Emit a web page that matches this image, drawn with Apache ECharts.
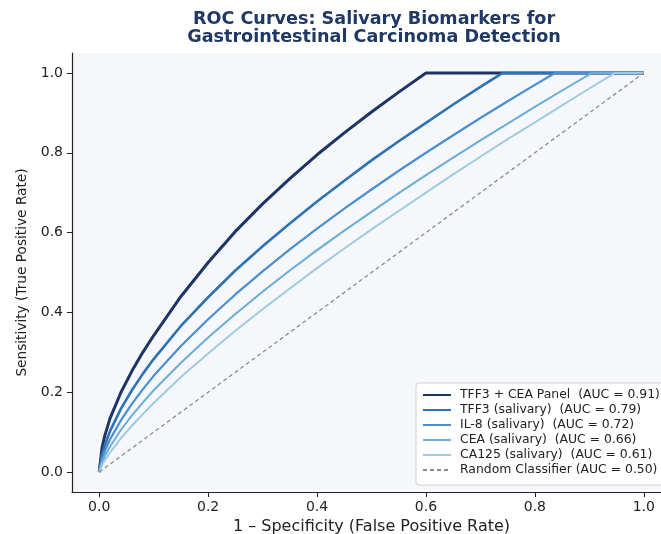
<!DOCTYPE html>
<html>
<head>
<meta charset="utf-8">
<script src="https://cdn.jsdelivr.net/npm/echarts@6/dist/echarts.min.js"></script>
<style>
html,body{margin:0;padding:0;background:#fff;}
#chart{width:661px;height:534px;}
</style>
</head>
<body>
<div id="chart"></div>
<script>
// ---- data ----
const seriesNames = [
  'TFF3 + CEA Panel  (AUC = 0.91)',
  'TFF3 (salivary)  (AUC = 0.79)',
  'IL-8 (salivary)  (AUC = 0.72)',
  'CEA (salivary)  (AUC = 0.66)',
  'CA125 (salivary)  (AUC = 0.61)',
  'Random Classifier (AUC = 0.50)'
];
const panelFpr = [0,0.005,0.01,0.02,0.04,0.06,0.08,0.1,0.15,0.2,0.25,0.3,0.35,0.4,0.45,0.5,0.55,0.6,1.0];
const panelTpr = [0,0.06,0.09,0.135,0.20,0.253,0.30,0.342,0.44,0.525,0.603,0.672,0.735,0.795,0.85,0.902,0.952,1,1];
const tff3Fpr = [0,0.005,0.01,0.02,0.04,0.06,0.08,0.1,0.15,0.2,0.25,0.3,0.35,0.4,0.45,0.5,0.55,0.6,0.65,0.7,0.741,1.0];
const tff3Tpr = [0,0.043,0.066,0.103,0.159,0.205,0.246,0.283,0.366,0.438,0.505,0.566,0.623,0.678,0.730,0.781,0.829,0.875,0.921,0.965,1,1];
const il8Fpr = [0,0.005,0.01,0.02,0.04,0.06,0.08,0.1,0.15,0.2,0.25,0.3,0.35,0.4,0.45,0.5,0.55,0.6,0.65,0.7,0.75,0.8,0.837,1.0];
const il8Tpr = [0,0.032,0.052,0.082,0.130,0.171,0.207,0.241,0.316,0.383,0.445,0.503,0.558,0.610,0.660,0.708,0.755,0.800,0.844,0.887,0.929,0.970,1,1];
const ceaFpr = [0,0.005,0.01,0.02,0.04,0.06,0.08,0.1,0.15,0.2,0.25,0.3,0.35,0.4,0.45,0.5,0.55,0.6,0.65,0.7,0.75,0.8,0.85,0.905,1.0];
const ceaTpr = [0,0.024,0.039,0.064,0.106,0.142,0.174,0.205,0.274,0.337,0.396,0.452,0.505,0.556,0.605,0.652,0.699,0.744,0.788,0.831,0.873,0.915,0.956,1,1];
const ca125Fpr = [0,0.005,0.01,0.02,0.04,0.06,0.08,0.1,0.15,0.2,0.25,0.3,0.35,0.4,0.45,0.5,0.55,0.6,0.65,0.7,0.75,0.8,0.85,0.9,0.947,1.0];
const ca125Tpr = [0,0.017,0.029,0.049,0.085,0.116,0.145,0.173,0.238,0.297,0.354,0.408,0.460,0.511,0.560,0.608,0.654,0.700,0.746,0.790,0.834,0.876,0.919,0.961,1,1];
const randomFpr = [0,1];
const randomTpr = [0,1];
const tickValues = [0,0.2,0.4,0.6,0.8,1.0];

// ---- styling ----
const FONT = 'DejaVu Sans';
const colors = ['#1c3664','#2e72b4','#4a8fd2','#6cadd8','#9fcbe2','#8c8c8c'];
const widths = [3,2.6,2.2,2,2,1.3];

function zip(xs, ys){ return xs.map((x,i)=>[x, ys[i]]); }
const dataSets = [
  zip(panelFpr, panelTpr),
  zip(tff3Fpr, tff3Tpr),
  zip(il8Fpr, il8Tpr),
  zip(ceaFpr, ceaTpr),
  zip(ca125Fpr, ca125Tpr),
  zip(randomFpr, randomTpr)
];

const series = dataSets.map((d,i)=>({
  name: seriesNames[i],
  type: 'line',
  data: d,
  symbol: 'none',
  showSymbol: false,
  smooth: false,
  clip: false,
  z: 2 + i,
  lineStyle: {
    color: colors[i],
    width: widths[i],
    type: i === 5 ? [4,3] : 'solid',
    cap: 'butt',
    join: 'round'
  },
  itemStyle: { color: colors[i] },
  animation: false
}));

const chart = echarts.init(document.getElementById('chart'), null, {renderer:'canvas'});
chart.setOption({
  animation: false,
  backgroundColor: '#ffffff',
  title: {
    text: 'ROC Curves: Salivary Biomarkers for\nGastrointestinal Carcinoma Detection',
    left: 369,
    textAlign: 'center',
    top: 5,
    textStyle: {
      fontFamily: FONT,
      fontWeight: 'bold',
      fontSize: 17.6,
      lineHeight: 18,
      color: '#1f3864'
    }
  },
  grid: {
    left: 72,
    right: -10,
    top: 53,
    bottom: 42,
    outerBoundsMode: 'none',
    containLabel: false,
    show: true,
    backgroundColor: '#f5f7fb',
    borderWidth: 0
  },
  legend: {
    orient: 'vertical',
    left: 416,
    top: 383,
    padding: [6, 8, 9, 6],
    itemWidth: 28,
    itemHeight: 10,
    itemGap: 3,
    backgroundColor: '#ffffff',
    borderColor: '#d0d0d0',
    borderWidth: 1,
    borderRadius: 3,
    itemStyle: { opacity: 0 },
    data: seriesNames,
    textStyle: {
      fontFamily: FONT,
      fontSize: 12.4,
      color: '#222222',
      padding: [0,0,0,4]
    }
  },
  xAxis: {
    type: 'value',
    min: -0.05,
    max: 1.05,
    name: '1 – Specificity (False Positive Rate)',
    nameLocation: 'middle',
    nameGap: 25,
    nameTextStyle: { fontFamily: FONT, fontSize: 16, color: '#222' },
    axisLine: { show: true, onZero: false, lineStyle: { color: '#222', width: 1.2 } },
    axisTick: { show: true, customValues: tickValues, length: 5, lineStyle: { color: '#222' } },
    axisLabel: {
      customValues: tickValues,
      formatter: v => v.toFixed(1),
      fontFamily: FONT, fontSize: 14, color: '#222', margin: 8
    },
    splitLine: { show: false }
  },
  yAxis: {
    type: 'value',
    min: -0.05,
    max: 1.05,
    name: 'Sensitivity (True Positive Rate)',
    nameLocation: 'middle',
    nameGap: 43,
    nameRotate: 90,
    nameTextStyle: { fontFamily: FONT, fontSize: 13.7, color: '#222' },
    axisLine: { show: true, onZero: false, lineStyle: { color: '#222', width: 1.2 } },
    axisTick: { show: true, customValues: tickValues, length: 5, lineStyle: { color: '#222' } },
    axisLabel: {
      customValues: tickValues,
      formatter: v => v.toFixed(1),
      fontFamily: FONT, fontSize: 14, color: '#222', margin: 9
    },
    splitLine: { show: false }
  },
  series: series
});
</script>
</body>
</html>
